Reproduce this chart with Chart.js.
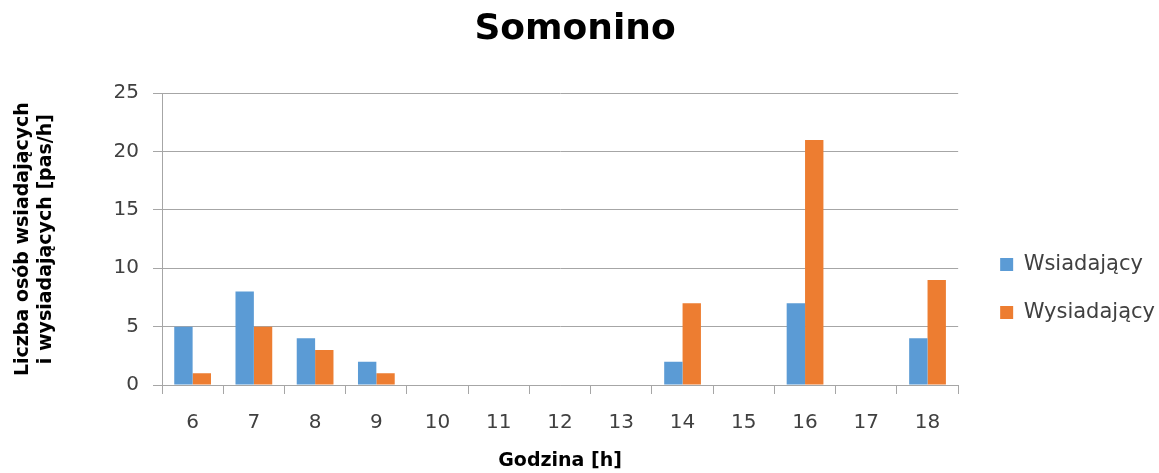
<!DOCTYPE html>
<html>
<head>
<meta charset="utf-8">
<script src="https://cdn.jsdelivr.net/npm/chart.js@4"></script>
<style>
  html, body { margin: 0; padding: 0; background: #fff; }
  #wrap { width: 1159px; height: 473px; position: relative; }
</style>
</head>
<body>
<div id="wrap"><canvas id="c" width="1159" height="473"></canvas></div>
<script>
const chartTitle = 'Somonino';
const categories = ['6','7','8','9','10','11','12','13','14','15','16','17','18'];
const seriesNames = ['Wsiadający', 'Wysiadający'];
const wsiadajacy  = [5, 8, 4, 2, 0, 0, 0, 0, 2, 0, 7, 0, 4];
const wysiadajacy = [1, 5, 3, 1, 0, 0, 0, 0, 7, 0, 21, 0, 9];
const yTitle = ['Liczba osób wsiadających', 'i wysiadających [pas/h]'];
const xTitle = 'Godzina [h]';

const FONT = "'DejaVu Sans', sans-serif";
const GRID = '#a6a6a6';
const TXT = '#404040';

const legendShift = {
  id: 'legendShift',
  afterLayout(chart) {
    const l = chart.legend;
    if (!l) return;
    const dx = 15, dy = 52;
    l.left += dx; l.right += dx; l.top += dy; l.bottom += dy;
  }
};

new Chart(document.getElementById('c'), {
  type: 'bar',
  data: {
    labels: categories,
    datasets: [
      { label: seriesNames[0], data: wsiadajacy, backgroundColor: '#5b9bd5', borderWidth: 0 },
      { label: seriesNames[1], data: wysiadajacy, backgroundColor: '#ed7d31', borderWidth: 0 }
    ]
  },
  options: {
    responsive: false,
    animation: false,
    devicePixelRatio: 1,
    layout: { padding: { left: 0, right: 9, top: 0, bottom: 0 } },
    datasets: { bar: { categoryPercentage: 0.6, barPercentage: 1.0 } },
    plugins: {
      title: {
        display: true,
        text: chartTitle,
        color: '#000',
        font: { family: FONT, size: 36, weight: 'bold' },
        padding: { top: 8, bottom: 42 }
      },
      legend: {
        position: 'right',
        align: 'center',
        labels: {
          color: TXT,
          font: { family: FONT, size: 21 },
          boxWidth: 13,
          boxHeight: 13,
          padding: 27
        }
      },
      tooltip: { enabled: false }
    },
    scales: {
      x: {
        afterFit(scale) { scale.height = 88; },
        grid: { display: true, drawOnChartArea: false, drawTicks: true, tickLength: 9, color: GRID, offset: true },
        border: { display: true, color: GRID, width: 1 },
        ticks: { color: TXT, font: { family: FONT, size: 20 }, padding: 17, maxRotation: 0 },
        title: { display: true, text: xTitle, color: '#000', font: { family: FONT, size: 19, weight: 'bold' }, padding: { top: 1, bottom: 1 } }
      },
      y: {
        min: 0, max: 25,
        afterFit(scale) { scale.width = 162; },
        grid: { color: GRID, tickLength: 9, drawTicks: true },
        border: { display: true, color: GRID, width: 1 },
        ticks: { stepSize: 5, color: TXT, font: { family: FONT, size: 20 }, padding: 14 },
        title: { display: true, text: yTitle, color: '#000', font: { family: FONT, size: 19, weight: 'bold', lineHeight: 1.2 }, padding: { top: 12, bottom: 0 } }
      }
    }
  },
  plugins: [legendShift]
});
</script>
</body>
</html>
